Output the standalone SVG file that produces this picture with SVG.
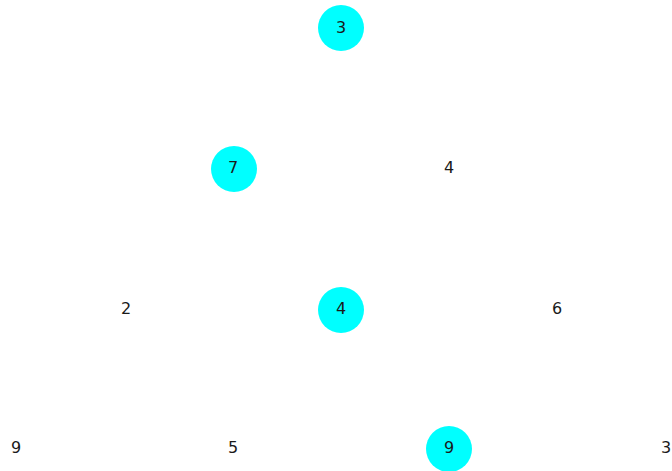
<svg xmlns="http://www.w3.org/2000/svg" width="672" height="471" viewBox="0 0 672 471">
<style>
.n{fill:#00ffff;stroke:none}
text{font-family:"DejaVu Sans",sans-serif;font-size:16px;fill:#1a1a1a;text-anchor:middle;dominant-baseline:central}
</style>
<rect width="672" height="471" fill="#fff"/>
<g id="connectors"></g>
<g id="n1"><circle class="n" cx="341" cy="28" r="23"/><text x="341" y="27">3</text></g>
<g id="n2"><circle class="n" cx="234" cy="169" r="23"/><text x="233" y="167">7</text></g>
<g id="n3"><text x="449" y="167">4</text></g>
<g id="n4"><text x="126" y="308">2</text></g>
<g id="n5"><circle class="n" cx="341" cy="310" r="23"/><text x="341" y="308">4</text></g>
<g id="n6"><text x="557" y="308">6</text></g>
<g id="n7"><text x="16" y="447">9</text></g>
<g id="n8"><text x="233" y="447">5</text></g>
<g id="n9"><circle class="n" cx="449" cy="449" r="23"/><text x="449" y="447">9</text></g>
<g id="n10"><text x="666" y="447">3</text></g>
</svg>
